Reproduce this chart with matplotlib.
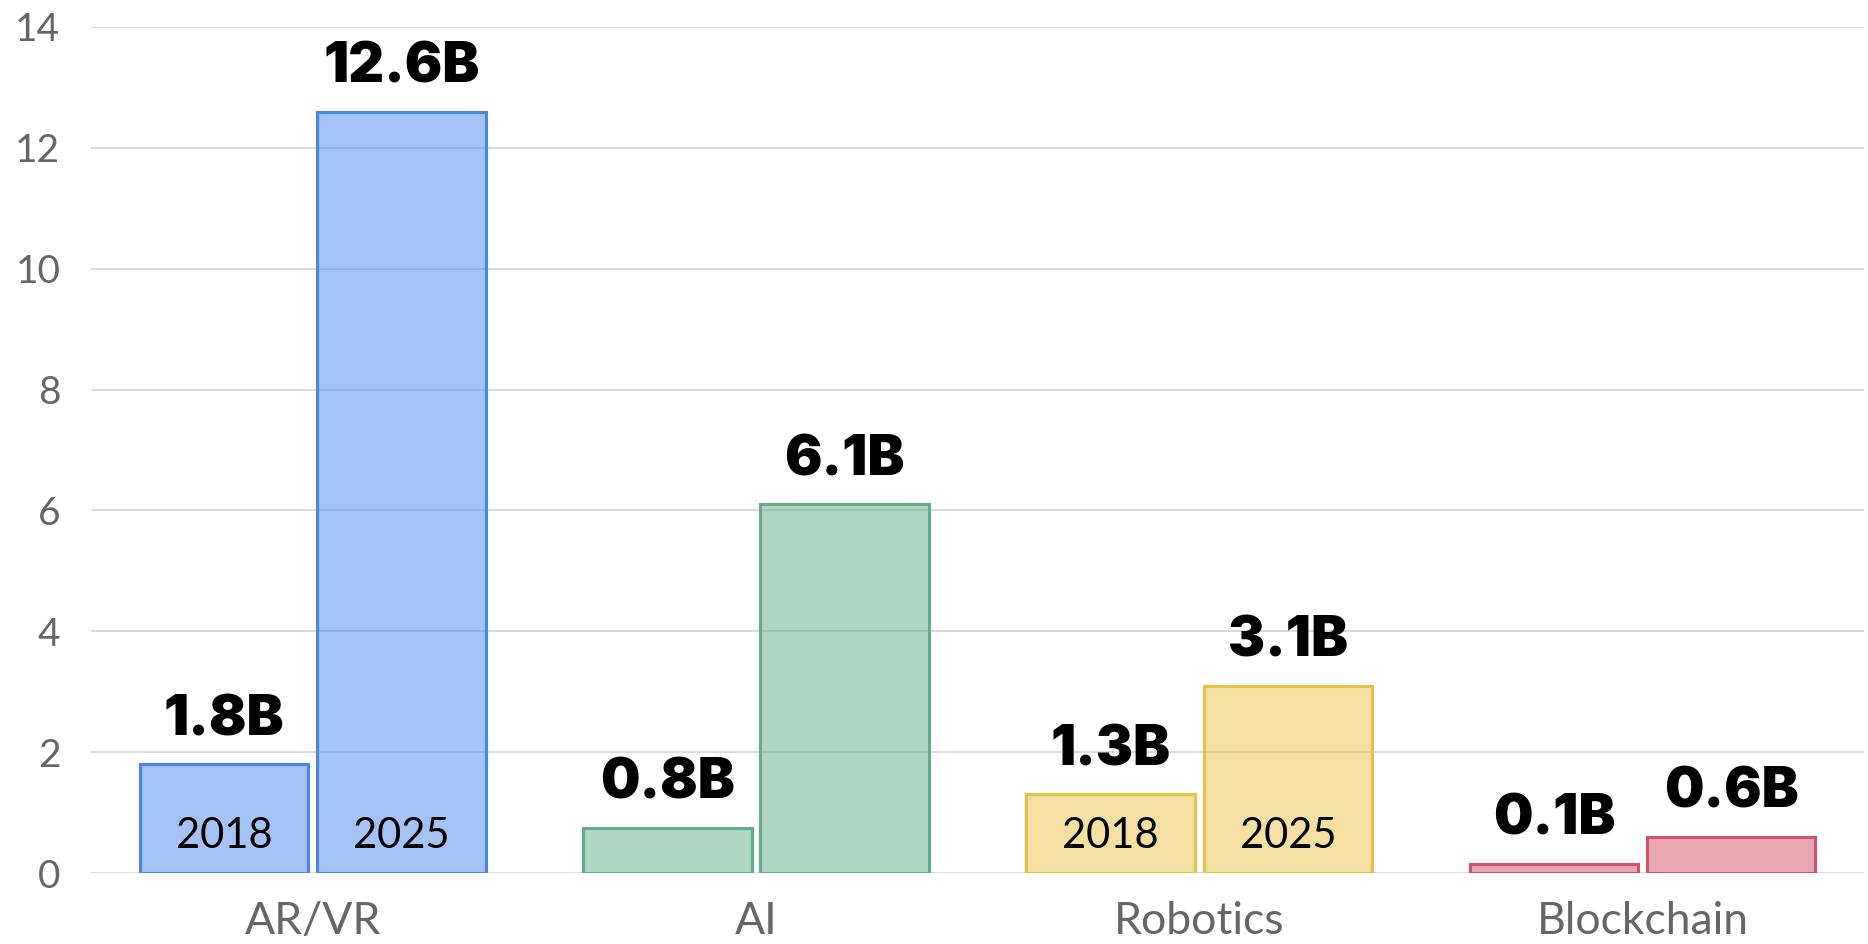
import matplotlib
matplotlib.use('Agg')
import matplotlib.pyplot as plt
import matplotlib.colors as mcolors
import numpy as np

#=====================================================

categories = ['AR/VR', 'AI', 'Robotics', 'Blockchain']
values_2018 = [1.8, 0.75, 1.3, 0.15]
values_2025 = [12.6, 6.1, 3.1, 0.6]
labels_2018 = ['1.8B', '0.8B', '1.3B', '0.1B']
labels_2025 = ['12.6B', '6.1B', '3.1B', '0.6B']
year_tags = ['2018', '2025']
tagged = ['AR/VR', 'Robotics']  # bars carrying the year inside
edge_colors = ['#4a86e8', '#63ad88', '#e6c144', '#d5506a']
y_ticks = [0, 2, 4, 6, 8, 10, 12, 14]

#=====================================================

def main():
    plt.rcParams['font.family'] = ['Lato', 'DejaVu Sans']

    fig = plt.figure(figsize=(18.68, 9.44), dpi=100)
    ax = fig.add_axes([0.0487, 0.0752, 0.9493, 0.8962])

    x = np.arange(len(categories))
    width = 0.38
    offset = 0.2

    for i, cat in enumerate(categories):
        edge = edge_colors[i]
        face = mcolors.to_rgba(edge, 0.5)
        for sign, val, lab, tag in [(-1, values_2018[i], labels_2018[i], year_tags[0]),
                                    (1, values_2025[i], labels_2025[i], year_tags[1])]:
            xc = x[i] + sign * offset
            ax.bar(xc, val, width=width, color=face, edgecolor=edge,
                   linewidth=2.2, zorder=3)
            ax.annotate(lab, (xc, val), xytext=(0, 13), textcoords='offset points',
                        ha='center', va='bottom', fontsize=40, fontweight='black',
                        family=['Inter', 'DejaVu Sans'], color='black', zorder=5)
            if cat in tagged:
                ax.text(xc, 0.62, tag, ha='center', va='center', fontsize=30,
                        color='black', zorder=5)

    ax.set_xlim(-0.5, len(categories) - 0.5)
    ax.set_ylim(0, 14)
    ax.set_yticks(y_ticks)
    ax.set_xticks(x)
    ax.set_xticklabels(categories)

    ax.grid(axis='y', color='#d9d9d9', linewidth=1.4, zorder=0)
    ax.set_axisbelow(True)
    for s in ax.spines.values():
        s.set_visible(False)

    ax.tick_params(axis='both', length=0, labelcolor='#666666')
    ax.tick_params(axis='y', pad=22, labelsize=28)
    ax.tick_params(axis='x', pad=20, labelsize=32)

    fig.savefig('out.png', dpi=100)

#=====================================================

if __name__ == '__main__':
    main()
